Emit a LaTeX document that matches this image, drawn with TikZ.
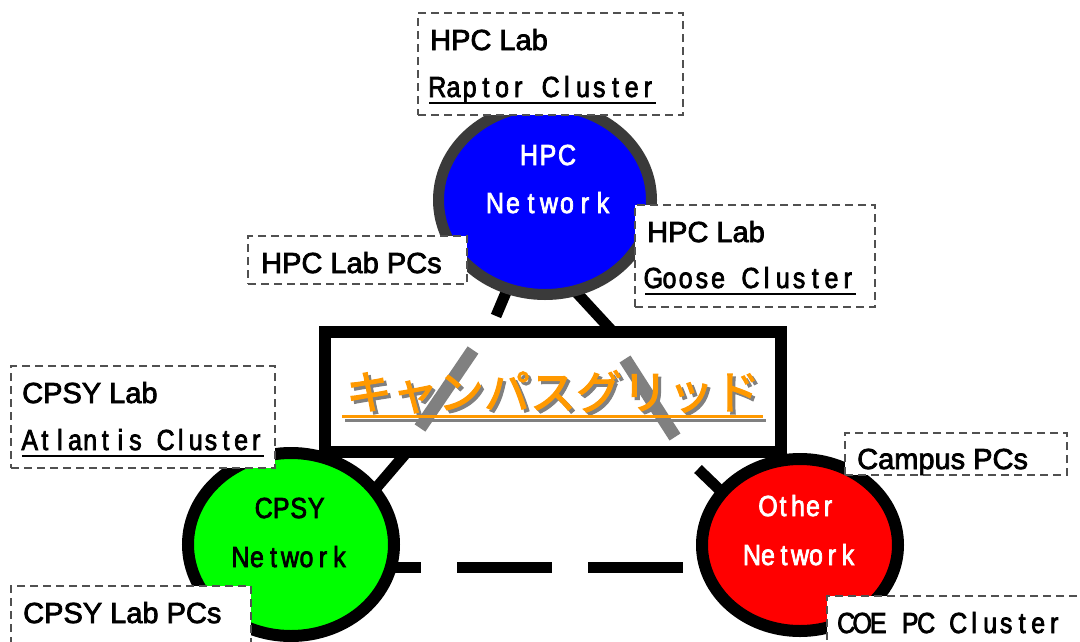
\documentclass[tikz,border=0pt]{standalone}
\usepackage{fontspec}
\setmainfont{Liberation Sans}
\newfontfamily\labfont{Liberation Sans}[FakeBold=2.5]
\newfontfamily\gmono{Liberation Sans}[FakeBold=2.5,FakeStretch=0.86]
\newfontfamily\jpfont{Noto Sans CJK JP}[FakeBold=2.5]
\usetikzlibrary{shapes.geometric}

\definecolor{hpcblue}{HTML}{0000FF}
\definecolor{hpcrim}{HTML}{3A3A3A}
\definecolor{cpsygreen}{HTML}{00FF00}
\definecolor{otherred}{HTML}{FF0000}
\definecolor{gridorange}{HTML}{FF9900}
\definecolor{shadegray}{HTML}{808080}
\definecolor{dashgray}{HTML}{505050}

% fixed-width cells for each character (half-width gothic look)
\newlength\cellw
\makeatletter
\newcommand\mono[2]{{\gmono\setlength\cellw{#1pt}\mono@#2\relax}}
\def\mono@#1{\ifx\relax#1\else\makebox[\cellw][c]{#1}\expandafter\mono@\fi}
\makeatother
% underlined text
\newsavebox\ulbox
\newcommand\ul[1]{\sbox\ulbox{#1}\rlap{\rule[-7pt]{\wd\ulbox}{2.5pt}}\usebox\ulbox}

\begin{document}
\begin{tikzpicture}[x=1pt,y=-1pt,
  net/.style={ellipse, draw, inner sep=0pt, outer sep=0pt},
  link/.style={line width=11pt, black},
  lbl/.style={rectangle, draw=dashgray, line width=1.8pt, dash pattern=on 8pt off 5pt,
              fill=white, inner sep=0pt, outer sep=0pt, anchor=north west},
  txt/.style={font=\labfont\fontsize{29}{34}\selectfont, inner sep=0pt, anchor=base west},
  ctxt/.style={font=\labfont\fontsize{29}{34}\selectfont, inner sep=0pt, anchor=base},
  jp/.style={font=\jpfont\fontsize{46}{50}\selectfont, inner sep=0pt, anchor=base},
]
\useasboundingbox (0,0) rectangle (1080,641);

% network centres
\coordinate (hpcc) at (545,200);
\coordinate (cpsyc) at (291,544.5);
\coordinate (otherc) at (800,545);

% short links (drawn beneath the networks)
\coordinate (hpcLend) at (496,316);
\coordinate (hpcRa) at (565,280);
\coordinate (hpcRb) at (613,332);
\coordinate (cpsyA) at (407,452);
\coordinate (cpsyB) at (365,501);
\coordinate (otherA) at (698,469);
\coordinate (otherB) at (726,496);
\draw[link] (hpcc) -- (hpcLend);
\draw[link] (hpcRa) -- (hpcRb);
\draw[link] (cpsyA) -- (cpsyB);
\draw[link] (otherA) -- (otherB);

% dashed link between CPSY and Other
\coordinate (dashL) at (291,567.5);
\coordinate (dashR) at (800,567.5);
\draw[link, dash pattern=on 95pt off 36pt, dash phase=96pt] (dashL) -- (dashR);

% networks
\node[net, draw=hpcrim, fill=hpcblue, line width=11pt,
      minimum width=213pt, minimum height=189pt] (hpc) at (hpcc) {};
\node[net, draw=black, fill=cpsygreen, line width=12pt,
      minimum width=206pt, minimum height=183pt] (cpsy) at (cpsyc) {};
\node[net, draw=black, fill=otherred, line width=12pt,
      minimum width=196pt, minimum height=172pt] (other) at (otherc) {};

% campus grid box
\node[rectangle, draw=black, fill=white, line width=12pt, inner sep=0pt, outer sep=0pt,
      minimum width=456pt, minimum height=120pt] (grid) at (552.5,392) {};
\coordinate (barA1) at (420,428);
\coordinate (barA2) at (473,350);
\coordinate (barB1) at (625,359);
\coordinate (barB2) at (675,437);
\draw[line width=13pt, shadegray] (barA1) -- (barA2);
\draw[line width=13pt, shadegray] (barB1) -- (barB2);
\node[jp, text=shadegray] (gridshadow) at (556,412) {キャンパスグリッド};
\draw[line width=3pt, shadegray] (345,420) -- (766,420);
\node[jp, text=gridorange] (gridtext) at (553,409) {キャンパスグリッド};
\draw[line width=3pt, gridorange] (342,416.5) -- (763,416.5);

% network names
\node[ctxt, text=white] (hpcname1) at (548,165) {\mono{19}{HPC}};
\node[ctxt, text=white] (hpcname2) at (549,213) {\mono{18}{Network}};
\node[ctxt, text=black] (cpsyname1) at (290,518) {\mono{17.5}{CPSY}};
\node[ctxt, text=black] (cpsyname2) at (290,567) {\mono{16.5}{Network}};
\node[ctxt, text=white] (othername1) at (798,516) {\mono{15}{Other}};
\node[ctxt, text=white] (othername2) at (800,565) {\mono{16}{Network}};

% resource labels
\node[lbl, minimum width=265pt, minimum height=102pt] (raptor) at (418,13) {};
\node[txt] (raptor1) at (430,50) {HPC Lab};
\node[txt] (raptor2) at (429,97) {\ul{\mono{16.2}{Raptor~Cluster}}};

\node[lbl, minimum width=219pt, minimum height=48pt] (hpcpcs) at (248,236) {};
\node[txt] (hpcpcs1) at (261,273) {HPC Lab PCs};

\node[lbl, minimum width=240pt, minimum height=102pt] (goose) at (635,205) {};
\node[txt] (goose1) at (647,242) {HPC Lab};
\node[txt] (goose2) at (645,288) {\ul{\mono{16.2}{Goose~Cluster}}};

\node[lbl, minimum width=264pt, minimum height=102pt] (atlantis) at (11,366) {};
\node[txt] (atlantis1) at (22,403) {CPSY Lab};
\node[txt] (atlantis2) at (22,450) {\ul{\mono{15.1}{Atlantis~Cluster}}};

\node[lbl, minimum width=222pt, minimum height=42pt] (campus) at (845,433) {};
\node[txt] (campus1) at (857,469) {Campus PCs};

\node[lbl, minimum width=240pt, minimum height=80pt] (cpsypcs) at (11,586) {};
\node[txt] (cpsypcs1) at (23,623) {CPSY Lab PCs};

\node[lbl, minimum width=280pt, minimum height=80pt] (coe) at (827,596) {};
\node[txt] (coe1) at (838,633) {\mono{16}{COE~PC~Cluster}};
\end{tikzpicture}
\end{document}
